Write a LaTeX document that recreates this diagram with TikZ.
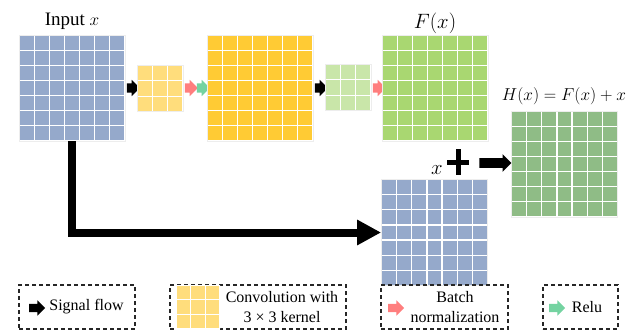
\documentclass[tikz,border=0pt]{standalone}
\usepackage{fontspec}
\setmainfont{Liberation Serif}
\usetikzlibrary{calc,shapes.arrows,arrows.meta}
\definecolor{cblue}{HTML}{95A9CB}
\definecolor{corange}{HTML}{FFCB34}
\definecolor{cylight}{HTML}{FFDD7C}
\definecolor{cglight}{HTML}{C9E6A9}
\definecolor{cgreen}{HTML}{A9D771}
\definecolor{cdgreen}{HTML}{8FBC86}
\definecolor{cpink}{HTML}{FF7E7E}
\definecolor{cmint}{HTML}{74D3A1}
\tikzset{
  cellgrid/.style={path picture={
    \foreach \k in {0,...,#1}{
      \draw[white,line width=1.2pt]
        ($(path picture bounding box.south west)!\k/#1!(path picture bounding box.south east)$) --
        ($(path picture bounding box.north west)!\k/#1!(path picture bounding box.north east)$);
      \draw[white,line width=1.2pt]
        ($(path picture bounding box.south west)!\k/#1!(path picture bounding box.north west)$) --
        ($(path picture bounding box.south east)!\k/#1!(path picture bounding box.north east)$);
    }}},
  fmap/.style={draw=black!7, line width=0.8pt, inner sep=0pt, minimum size=106pt, fill=#1, cellgrid=7},
  kern/.style={draw=black!7, line width=0.8pt, inner sep=0pt, minimum size=46pt, fill=#1, cellgrid=3},
  sarrow/.style={single arrow, fill=#1, draw=none, inner xsep=0pt, inner ysep=4.5pt, minimum height=13pt,
    single arrow head extend=3.5pt},
  larrow/.style={single arrow, fill=#1, draw=none, inner xsep=0pt, inner ysep=4pt, minimum height=16pt,
    single arrow head extend=3.5pt},
  legbox/.style={draw=black!85, dash pattern=on 4pt off 3pt, line width=1.3pt, inner sep=0pt, minimum height=44pt},
  lbl/.style={font=\fontsize{19}{23}\selectfont, inner sep=0pt},
  mlbl/.style={font=\fontsize{20.5}{24}\selectfont, inner sep=0pt},
  ltxt/.style={font=\fontsize{16}{20}\selectfont, align=center, inner sep=0pt},
}
\begin{document}
\begin{tikzpicture}[x=1pt,y=-1pt]
\useasboundingbox (0,0) rectangle (635,330);
% arrows between maps
\node[sarrow=black] (a1) at (131,88) {};
\node[sarrow=cpink] (a2) at (189,88) {};
\node[sarrow=cmint] (a3) at (201,88) {};
\node[sarrow=black] (a4) at (319,88) {};
\node[sarrow=cpink] (a5) at (377,88) {};
% feature maps
\node[fmap=cblue] (in) at (72,88) {};
\node[kern=cylight] (k1) at (160,88.5) {};
\node[fmap=corange] (conv) at (260,88) {};
\node[kern=cglight] (k2) at (348,87.5) {};
\node[fmap=cgreen] (fx) at (435,88) {};
\node[fmap=cblue] (xb) at (434.5,232.5) {};
\node[fmap=cdgreen] (hx) at (564.5,164) {};
% labels
\node[lbl] (lin) at (72,21) {Input $x$};
\node[mlbl] (lfx) at (435,23) {$F(x)$};
\node[lbl] (lhx) at (564,96) {$H(x)=F(x)+x$};
\node[mlbl] (lx) at (437,170) {$x$};
% skip connection
\draw[line width=8pt, line join=miter, -{Triangle[length=24pt,width=24pt]}] (in.south) |- (xb.west);
% plus
\coordinate (plus) at (458,162);
\draw[line width=5pt] ($(plus)+(-11,0)$) -- ($(plus)+(11,0)$);
\draw[line width=5pt] ($(plus)+(0,-13)$) -- ($(plus)+(0,13)$);
\node[single arrow, fill=black, inner xsep=0pt, inner ysep=4.75pt, minimum height=32pt,
  single arrow head extend=4pt] (a6) at (493,163) {};
% legend
\node[legbox, minimum width=116pt] (lb1) at (77,307) {};
\node[legbox, minimum width=176pt] (lb2) at (258,307) {};
\node[legbox, minimum width=127pt] (lb3) at (444.5,307) {};
\node[legbox, minimum width=75pt] (lb4) at (580.5,307) {};
\node[larrow=black] (la1) at (35,308) {};
\node[ltxt] (lt1) at (86.5,307) {Signal flow};
\node[kern=cylight, minimum size=44pt, draw=none] (lk) at (198,307) {};
\node[ltxt] (lt2) at (282,307) {Convolution with\\3 × 3 kernel};
\node[larrow=cpink] (la3) at (394,308) {};
\node[ltxt] (lt3) at (455,307) {Batch\\normalization};
\node[larrow=cmint] (la4) at (555,308) {};
\node[ltxt] (lt4) at (587,307) {Relu};
\end{tikzpicture}
\end{document}
